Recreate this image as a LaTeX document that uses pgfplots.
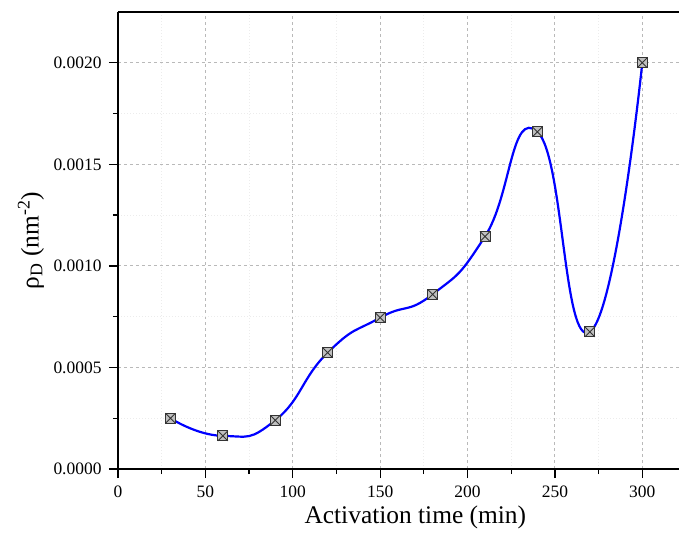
\documentclass[border=0pt]{standalone}
\usepackage{fontspec}
\setmainfont{Liberation Serif}
\usepackage{pgfplots}
\pgfplotsset{compat=1.18}
\pgfdeclareplotmark{sqx}{%
 \pgfpathrectangle{\pgfqpoint{-\pgfplotmarksize}{-\pgfplotmarksize}}{\pgfqpoint{2\pgfplotmarksize}{2\pgfplotmarksize}}%
 \pgfusepathqfillstroke
 \pgfpathmoveto{\pgfqpoint{-\pgfplotmarksize}{-\pgfplotmarksize}}\pgfpathlineto{\pgfqpoint{\pgfplotmarksize}{\pgfplotmarksize}}%
 \pgfpathmoveto{\pgfqpoint{-\pgfplotmarksize}{\pgfplotmarksize}}\pgfpathlineto{\pgfqpoint{\pgfplotmarksize}{-\pgfplotmarksize}}%
 \pgfusepathqstroke}
\begin{document}
\begin{tikzpicture}
\begin{axis}[
 scale only axis, width=561bp, height=457bp,
 xmin=0, xmax=321, ymin=0, ymax=0.00225,
 axis x line=box, axis y line=left, axis line style={-, line width=1.4bp, black},
 xtick={0,50,100,150,200,250,300}, minor x tick num=1,
 ytick={0,0.0005,0.001,0.0015,0.002}, minor y tick num=1,
 tick align=outside, xtick pos=left, ytick pos=left,
 major tick length=9bp, minor tick length=5bp,
 tick style={black, line width=1.3bp},
 grid=both,
 major grid style={gray!55, dash pattern=on 3bp off 3bp, line width=1bp},
 minor grid style={gray!15, dash pattern=on 1bp off 2bp, line width=0.7bp},
 scaled y ticks=false,
 yticklabel style={/pgf/number format/fixed, /pgf/number format/precision=4, /pgf/number format/fixed zerofill, xshift=-4bp},
 xticklabel style={yshift=-4bp},
 /pgf/number format/assume math mode=true,
 ticklabel style={font=\fontsize{17.5}{20}\selectfont},
 label style={font=\fontsize{25.5}{28}\selectfont},
 xlabel={Activation time (min)},
 xlabel style={at={(axis description cs:0.53,0)}, anchor=base, yshift=-54bp},
 ylabel={ρ\textsubscript{D} (nm\textsuperscript{-2})},
 ylabel style={at={(axis description cs:-0.155,0.5)}, anchor=center},
]
\addplot[blue, line width=2.2bp, smooth, tension=0.9] coordinates {
(30,0.00025) (60,0.000163) (90,0.00024) (120,0.000573) (150,0.000745)
(180,0.00086) (210,0.001145) (240,0.00166) (270,0.000675) (300,0.0020)};
\addplot[only marks, mark=sqx, mark size=5bp, mark options={fill=gray!50, draw=black!80, line width=0.9bp}] coordinates {
(30,0.00025) (60,0.000163) (90,0.00024) (120,0.000573) (150,0.000745)
(180,0.00086) (210,0.001145) (240,0.00166) (270,0.000675) (300,0.0020)};
\end{axis}
\pgfresetboundingbox
\path[use as bounding box] ([xshift=-118bp,yshift=-72bp]current axis.south west) rectangle ([yshift=12bp]current axis.north east);
\end{tikzpicture}
\end{document}
